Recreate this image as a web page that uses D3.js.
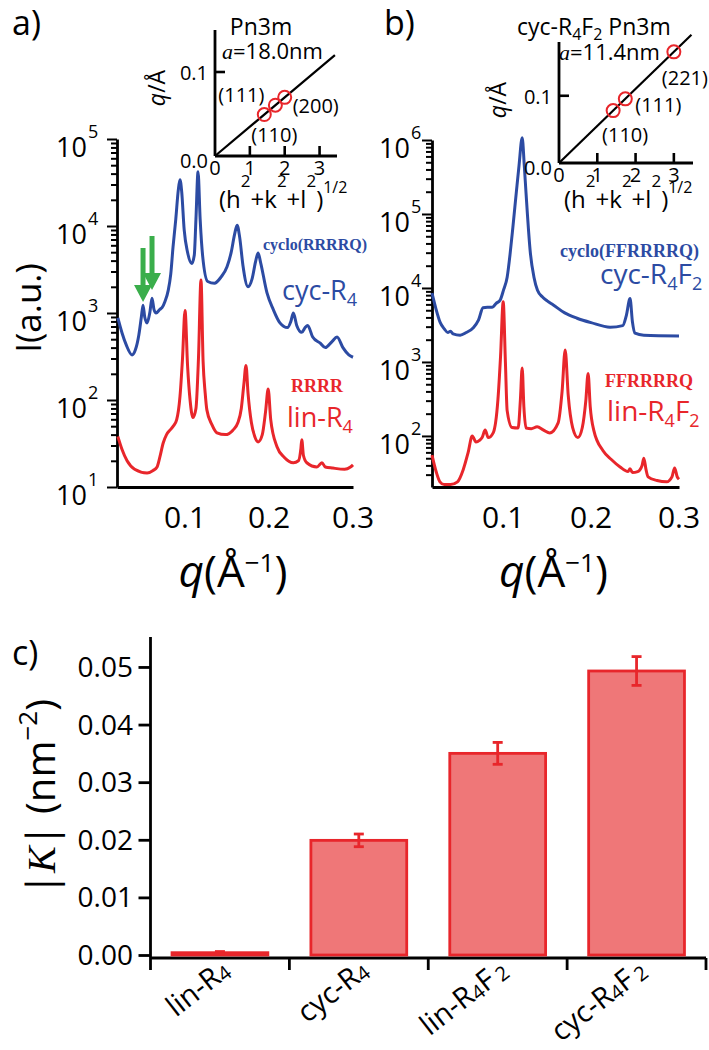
<!DOCTYPE html>
<html><head><meta charset="utf-8">
<script src="https://cdn.jsdelivr.net/npm/d3@7"></script>
<style>
html,body{margin:0;padding:0;background:#fff;}
svg text{font-family:'Open Sans','DejaVu Sans',sans-serif;fill:#000;}
</style></head>
<body>
<svg id="fig" width="709" height="1050"></svg>
<script>
// ---------------- DATA ----------------
// Panel a: cyc-R4 (blue)
const cycR4_q = [0.020,0.025,0.030,0.0369,0.041,0.045,0.048,0.050,0.052,0.0548,0.058,0.0607,0.063,0.0655,0.070,0.0726,0.076,0.080,0.083,0.0857,0.089,0.092,0.094,0.096,0.099,0.103,0.108,0.111,0.113,0.1155,0.118,0.121,0.127,0.135,0.143,0.150,0.155,0.159,0.162,0.165,0.169,0.175,0.180,0.184,0.187,0.190,0.1976,0.205,0.213,0.222,0.226,0.229,0.233,0.239,0.243,0.246,0.252,0.261,0.267,0.275,0.281,0.288,0.295,0.300];
const cycR4_I = [880,590,430,330,380,560,900,1230,900,770,1000,1480,1100,1000,1100,1150,1350,1820,2800,5700,12000,26000,34000,25000,9000,5000,3700,4600,12000,42000,12000,4500,2300,2200,2600,3400,5000,8000,10200,7500,3500,2000,2500,3900,4900,3800,1700,1100,770,680,800,1000,720,600,680,720,530,450,400,470,530,400,330,310];
// Panel a: lin-R4 (red)
const linR4_q = [0.020,0.025,0.031,0.040,0.0548,0.062,0.0667,0.070,0.074,0.078,0.082,0.086,0.090,0.094,0.097,0.100,0.103,0.106,0.1095,0.113,0.116,0.119,0.1215,0.124,0.126,0.132,0.138,0.148,0.157,0.163,0.167,0.170,0.1726,0.175,0.179,0.183,0.187,0.192,0.196,0.199,0.202,0.2095,0.218,0.229,0.235,0.238,0.239,0.241,0.245,0.257,0.263,0.267,0.276,0.290,0.297,0.300];
const linR4_I = [38,27,20,16,14.5,15.5,17,22,32,40,45,50,59,110,300,1070,250,100,63,80,300,2400,280,120,77,52,42,40,45,55,80,150,250,120,55,38,33,40,75,134,60,29,22,19,20,28,35,23,19,17,19,17,16.5,16,17,18];
// Panel b: cyc-R4F2 (blue)
const cycR4F2_q = [0.019,0.023,0.0284,0.033,0.037,0.040,0.043,0.051,0.058,0.066,0.072,0.077,0.082,0.0875,0.092,0.0966,0.1005,0.1045,0.108,0.111,0.115,0.118,0.1216,0.124,0.126,0.131,0.135,0.139,0.145,0.150,0.157,0.170,0.184,0.200,0.2216,0.236,0.240,0.2443,0.247,0.250,0.260,0.300];
const cycR4F2_I = [8500,5500,3400,2800,2500,2600,2400,2300,2500,2900,3700,5400,5500,5500,6200,6900,9500,14000,30000,66000,200000,450000,1070000,450000,190000,29000,14000,9300,7500,6700,5900,4600,3900,3400,2950,3100,4200,7200,3500,2450,2300,2250];
// Panel b: lin-R4F2 (red)
const linR4F2_q = [0.019,0.024,0.028,0.033,0.040,0.048,0.0545,0.060,0.0648,0.069,0.073,0.076,0.0795,0.083,0.0886,0.094,0.097,0.100,0.1025,0.1045,0.110,0.117,0.1195,0.1216,0.1235,0.126,0.132,0.1386,0.146,0.153,0.1625,0.167,0.1705,0.174,0.179,0.185,0.190,0.194,0.1966,0.199,0.203,0.2136,0.223,0.233,0.242,0.2443,0.247,0.253,0.258,0.260,0.2625,0.2648,0.275,0.286,0.292,0.295,0.298,0.300];
const linR4F2_I = [55,32,24,22,22,24,35,59,100,83,87,95,120,95,110,310,1200,6500,1000,220,130,128,300,830,250,128,125,133,120,110,150,400,1450,350,130,95,130,300,700,250,120,63,48,38,33,36,32,33,40,50,35,28,25,24,28,37,28,26];
// Green arrows (q of the two marked peaks in panel a, intensity at arrow tip)
const arrowQ = [0.050, 0.0607];
const arrowTipI = [1340, 1840];
// Insets: reflections, lattice constants (Å)
const insetA_hkl = ['(110)','(111)','(200)'];
const insetA_s = [Math.SQRT2, Math.sqrt(3), 2];
const insetA_a = 180;
const insetB_hkl = ['(110)','(111)','(221)'];
const insetB_s = [Math.SQRT2, Math.sqrt(3), 3];
const insetB_a = 114;
const insetXTicks = [0,1,2,3];
const insetYTicks = [0, 0.1];
// Panel c
const barCats = ['lin-R4','cyc-R4','lin-R4F2','cyc-R4F2'];
const barLabels = [[['lin-R'],['4',1]], [['cyc-R'],['4',1]], [['lin-R'],['4',1],['F'],['2',1]], [['cyc-R'],['4',1],['F'],['2',1]]];
const barVals = [0.0004, 0.0199, 0.0350, 0.0493];
const barErr = [0.0002, 0.0011, 0.0019, 0.0025];
const barTicks = [0,0.01,0.02,0.03,0.04,0.05];
const mainXTicks = [0.1,0.2,0.3];

// ---------------- STYLE ----------------
const BLUE = '#2c4ba3', RED = '#e8262b', GREEN = '#3aae4b', BARFILL = '#ef7778';
const SERIF = "'Liberation Serif','Times New Roman',serif";
const svg = d3.select('#fig');

function rich(sel, x, y, parts, size, opt) {
  opt = opt || {};
  const t = sel.append('text').attr('x', x).attr('y', y).style('font-size', size + 'px');
  if (opt.anchor) t.attr('text-anchor', opt.anchor);
  if (opt.transform) t.attr('transform', opt.transform);
  if (opt.fill) t.style('fill', opt.fill);
  if (opt.family) t.style('font-family', opt.family);
  if (opt.weight) t.style('font-weight', opt.weight);
  let shift = 0;
  parts.forEach(p => {
    const s = t.append('tspan').text(p.t);
    let target = 0;
    if (p.sub) target = p.dy != null ? p.dy : size * 0.22;
    if (p.sup) target = p.dy != null ? p.dy : -size * 0.42;
    if (target - shift !== 0) s.attr('dy', target - shift);
    shift = target;
    if (p.sub || p.sup) s.style('font-size', (p.fs || size * 0.68) + 'px');
    if (p.italic) s.style('font-style', 'italic');
    if (p.family) s.style('font-family', p.family);
    if (p.dx) s.attr('dx', p.dx);
  });
  return t;
}

// ---------------- MAIN SAXS PANELS ----------------
const isMajor = d => Math.abs(Math.log10(d) - Math.round(Math.log10(d))) < 1e-9;

function mainPanel(x, y, series, labelGap) {
  const g = svg.append('g');
  const x0 = x.range()[0];
  const ya = g.append('g').attr('transform', `translate(${x0},0)`)
    .call(d3.axisLeft(y).tickValues(y.ticks()).tickFormat('').tickSizeOuter(0));
  ya.selectAll('.tick line').attr('x2', d => isMajor(d) ? -10 : -6).attr('stroke-width', 2);
  ya.select('.domain').attr('stroke-width', 2.8);
  y.ticks().filter(isMajor).forEach(d => {
    const e = Math.round(Math.log10(d));
    rich(g, x0 - labelGap, y(d) + 18, [{t:'10'}], 27, {anchor:'end'});
    rich(g, x0 - labelGap + 1, y(d) - 1, [{t:String(e)}], 18, {});
  });
  const xa = g.append('g').attr('transform', `translate(0,${y.range()[0]})`)
    .call(d3.axisBottom(x).tickValues(mainXTicks).tickSize(0).tickFormat(''));
  xa.select('.domain').attr('stroke-width', 2.8);
  mainXTicks.forEach(t => rich(g, x(t), 528, [{t:t.toFixed(1)}], 30, {anchor:'middle'}));
  const line = d3.line().x(d => x(d[0])).y(d => y(d[1])).curve(d3.curveMonotoneX);
  series.forEach(s => {
    g.append('path').datum(d3.zip(s.q, s.I)).attr('d', line)
      .attr('fill', 'none').attr('stroke', s.color).attr('stroke-width', 3).attr('stroke-linejoin', 'round');
  });
  const cx = (x.range()[0] + x.range()[1]) / 2 - 2;
  rich(g, cx, 587, [{t:'q', italic:true}, {t:'(Å'}, {t:'−1', sup:true, fs:26, dy:-15}, {t:')'}], 44, {anchor:'middle'});
  return g;
}

const xA = d3.scaleLinear().domain([0.019, 0.3]).range([117, 353]);
const yA = d3.scaleLog().domain([10, 1e5]).range([487, 139]);
mainPanel(xA, yA, [
  {q: cycR4_q, I: cycR4_I, color: BLUE},
  {q: linR4_q, I: linR4_I, color: RED}
], 30);

const xB = d3.scaleLinear().domain([0.019, 0.3]).range([432, 679]);
const yB = d3.scaleLog().domain([Math.pow(10, 1.31), 1e6]).range([487, 140]);
mainPanel(xB, yB, [
  {q: cycR4F2_q, I: cycR4F2_I, color: BLUE},
  {q: linR4F2_q, I: linR4F2_I, color: RED}
], 22);

rich(svg, 0, 0, [{t:'I(a.u.)'}], 35, {anchor:'middle', transform:'translate(41,308) rotate(-90)'});

// green arrows
arrowQ.forEach((q, i) => {
  const x = xA(q), tip = yA(arrowTipI[i]), top = tip - 54, hs = tip - 17;
  svg.append('path').attr('d', `M${x-2.5},${top}L${x+2.5},${top}L${x+2.5},${hs}L${x+9},${hs}L${x},${tip}L${x-9},${hs}L${x-2.5},${hs}Z`)
    .attr('fill', GREEN);
});

// curve annotations
rich(svg, 263, 250, [{t:'cyclo(RRRRQ)'}], 16, {fill:BLUE, family:SERIF, weight:'bold'});
rich(svg, 282, 300, [{t:'cyc-R'}, {t:'4', sub:true, fs:18}], 27, {fill:BLUE});
rich(svg, 291, 392, [{t:'RRRR'}], 18, {fill:RED, family:SERIF, weight:'bold'});
rich(svg, 287, 427, [{t:'lin-R'}, {t:'4', sub:true, fs:18}], 27, {fill:RED});
rich(svg, 560, 257, [{t:'cyclo(FFRRRRQ)'}], 18, {fill:BLUE, family:SERIF, weight:'bold'});
rich(svg, 600, 284, [{t:'cyc-R'}, {t:'4', sub:true, fs:18}, {t:'F'}, {t:'2', sub:true, fs:18}], 28, {fill:BLUE});
rich(svg, 605, 387, [{t:'FFRRRRQ'}], 18, {fill:RED, family:SERIF, weight:'bold'});
rich(svg, 607, 421, [{t:'lin-R'}, {t:'4', sub:true, fs:18}, {t:'F'}, {t:'2', sub:true, fs:18}], 28, {fill:RED});

// ---------------- INSETS ----------------
function inset(x, y, s, hkl, a, labelOff, xEnd, labelX) {
  const g = svg.append('g');
  const x0 = x.range()[0], y0 = y.range()[0];
  g.append('line').attr('x1', x0).attr('x2', x0).attr('y1', y0).attr('y2', y.range()[1]).attr('stroke', '#000').attr('stroke-width', 2.8);
  g.append('line').attr('x1', x0).attr('x2', x.range()[1]).attr('y1', y0).attr('y2', y0).attr('stroke', '#000').attr('stroke-width', 2.8);
  insetXTicks.slice(1).forEach(t => {
    g.append('line').attr('x1', x(t)).attr('x2', x(t)).attr('y1', y0).attr('y2', y0 - 10).attr('stroke', '#000').attr('stroke-width', 2.6);
  });
  insetXTicks.forEach(t => rich(g, x(t), y0 + 19, [{t:String(t)}], 20, {anchor:'middle'}));
  insetYTicks.forEach(t => {
    if (t > 0) g.append('line').attr('x1', x0).attr('x2', x0 + 10).attr('y1', y(t)).attr('y2', y(t)).attr('stroke', '#000').attr('stroke-width', 2.6);
    rich(g, x0 - 7, y(t) + (t === 0 ? 12 : 8), [{t:t.toFixed(1)}], 20, {anchor:'end'});
  });
  const slope = 2 * Math.PI / a;
  g.append('line').attr('x1', x(0)).attr('y1', y(0)).attr('x2', x(xEnd)).attr('y2', y(slope * xEnd)).attr('stroke', '#000').attr('stroke-width', 2.2);
  s.forEach((v, i) => {
    g.append('circle').attr('cx', x(v)).attr('cy', y(slope * v)).attr('r', 6.5).attr('fill', 'none').attr('stroke', RED).attr('stroke-width', 2);
    rich(g, x(v) + labelOff[i][0], y(slope * v) + labelOff[i][1] + 7, [{t:hkl[i]}], 20, {anchor:'middle'});
  });
  rich(g, labelX, 208, [
    {t:'(h'}, {t:'2', sup:true, fs:17, dy:-21}, {t:'+k'}, {t:'2', sup:true, fs:17, dy:-21}, {t:'+l'}, {t:'2', sup:true, fs:17, dy:-21}, {t:')'}, {t:'1/2', sup:true, fs:16, dy:-15}
  ], 24, {});
  return g;
}

const xIa = d3.scaleLinear().domain([0, 3.5]).range([215, 337]);
const yIa = d3.scaleLinear().domain([0, 0.15]).range([156, 30]);
inset(xIa, yIa, insetA_s, insetA_hkl, insetA_a, [[10, 20], [-34, -10], [31, 9]], 3.44, 219);
rich(svg, 261, 35, [{t:'Pn3m'}], 23, {anchor:'middle'});
rich(svg, 222, 59, [{t:'a', italic:true, family:SERIF}, {t:'=18.0nm'}], 22, {});
rich(svg, 0, 0, [{t:'q', italic:true}, {t:'/Å'}], 23, {anchor:'middle', transform:'translate(165,88) rotate(-90)'});

const xIb = d3.scaleLinear().domain([0, 3.5]).range([559, 693]);
const yIb = d3.scaleLinear().domain([0, 0.18]).range([163, 42]);
inset(xIb, yIb, insetB_s, insetB_hkl, insetB_a, [[12, 24], [33, 6], [11, 26]], 3.46, 564);
rich(svg, 517, 35, [{t:'cyc-R'}, {t:'4', sub:true, fs:16}, {t:'F'}, {t:'2', sub:true, fs:16}, {t:'  Pn3m'}], 23, {});
rich(svg, 559, 60, [{t:'a', italic:true, family:SERIF}, {t:'=11.4nm'}], 22, {});
rich(svg, 0, 0, [{t:'q', italic:true}, {t:'/Å'}], 23, {anchor:'middle', transform:'translate(506,100) rotate(-90)'});

// panel letters
rich(svg, 12, 35, [{t:'a)'}], 34, {});
rich(svg, 384, 35, [{t:'b)'}], 34, {});
rich(svg, 12, 665, [{t:'c)'}], 34, {});

// ---------------- PANEL C ----------------
const xC = d3.scaleBand().domain(barCats).range([150.5, 706]).paddingInner(0.31).paddingOuter(0.155);
const yC = d3.scaleLinear().domain([0, 0.0552]).range([955, 637]);
const gC = svg.append('g');
const yax = gC.append('g').attr('transform', 'translate(150.5,0)')
  .call(d3.axisLeft(yC).tickValues(barTicks).tickFormat('').tickSize(12).tickSizeOuter(0));
yax.select('.domain').remove();
yax.selectAll('.tick line').attr('stroke-width', 2.8);
barTicks.forEach(t => rich(gC, 133, yC(t) + 10, [{t:t.toFixed(2)}], 28, {anchor:'end'}));
gC.append('line').attr('x1', 150.5).attr('x2', 150.5).attr('y1', yC.range()[1]).attr('y2', yC(0) + 15).attr('stroke', '#000').attr('stroke-width', 2.8);
const xAxisY = yC(0) + 3;
gC.append('line').attr('x1', 150.5).attr('x2', xC.range()[1]).attr('y1', xAxisY).attr('y2', xAxisY).attr('stroke', '#000').attr('stroke-width', 2.8);
barCats.forEach(c => {
  const bx = xC(c) + xC.bandwidth() + xC.step() * xC.paddingInner() / 2;
  gC.append('line').attr('x1', bx).attr('x2', bx).attr('y1', xAxisY).attr('y2', xAxisY + 12).attr('stroke', '#000').attr('stroke-width', 2.8);
});
gC.selectAll('rect.bar').data(barCats).enter().append('rect').attr('class', 'bar')
  .attr('x', c => xC(c)).attr('width', xC.bandwidth())
  .attr('y', (c, i) => yC(barVals[i])).attr('height', (c, i) => yC(0) - yC(barVals[i]))
  .attr('fill', BARFILL).attr('stroke', RED).attr('stroke-width', 2.8);
barCats.forEach((c, i) => {
  const cx = xC(c) + xC.bandwidth() / 2;
  const lo = yC(barVals[i] - barErr[i]), hi = yC(barVals[i] + barErr[i]);
  gC.append('line').attr('x1', cx).attr('x2', cx).attr('y1', lo).attr('y2', hi).attr('stroke', RED).attr('stroke-width', 2.8);
  [lo, hi].forEach(yy => gC.append('line').attr('x1', cx - 5).attr('x2', cx + 5).attr('y1', yy).attr('y2', yy).attr('stroke', RED).attr('stroke-width', 2.8));
  const parts = barLabels[i].map((p, k) => p[1] ? {t:p[0], sub:true, fs:20, dy:2, dx: k === 3 ? 4 : 0} : {t:p[0]});
  rich(gC, 0, 0, parts, 29, {anchor:'end', transform:`translate(${cx + 12},${xAxisY + 16}) rotate(-38)`});
});
rich(svg, 0, 0, [{t:'|'}, {t:'K', italic:true, family:SERIF}, {t:'|'}, {t:' (nm'}, {t:'−2', sup:true, fs:26, dy:-18}, {t:')'}], 40,
  {anchor:'middle', transform:'translate(55,797) rotate(-90)'});
</script>
</body></html>
